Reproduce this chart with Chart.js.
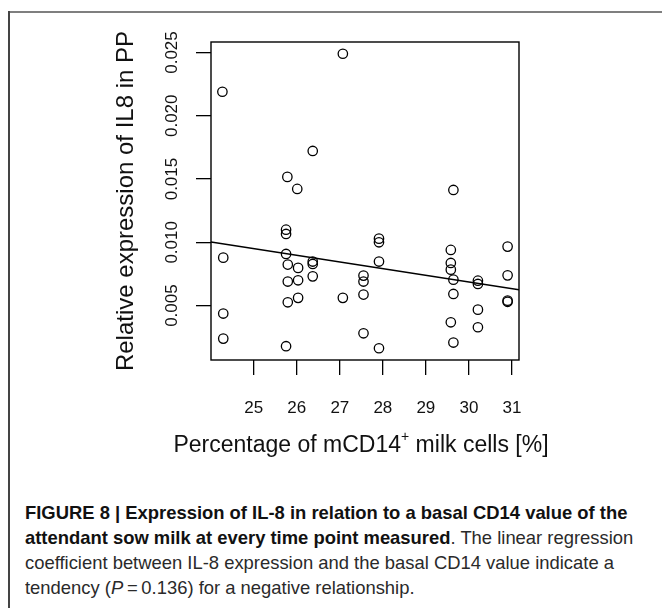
<!DOCTYPE html>
<html>
<head>
<meta charset="utf-8">
<script src="https://cdn.jsdelivr.net/npm/chart.js@4.4.1/dist/chart.umd.min.js"></script>
<style>
  html, body { margin: 0; padding: 0; background: #fff; }
  body { width: 662px; height: 608px; position: relative; overflow: hidden; }
  #wrap { position: absolute; left: 0; top: 0; width: 662px; height: 480px; }
  #frameTop { position: absolute; left: 8px; top: 11px; width: 654px; height: 2px; background: #7f7f7f; }
  #frameLeft { position: absolute; left: 8px; top: 11px; width: 1.5px; height: 597px; background: #444; }
  .cap { position: absolute; left: 25px; white-space: nowrap; font-family: "Liberation Sans", Arial, sans-serif; font-size: 18.5px; color: #2a2a2a; transform-origin: 0 0; }
  .cap b { font-weight: bold; color: #111; }
</style>
</head>
<body>
<div id="frameTop"></div>
<div id="frameLeft"></div>
<div id="wrap"><canvas id="c" width="662" height="480"></canvas></div>
<div class="cap" style="top:502px"><b>FIGURE 8 | Expression of IL-8 in relation to a basal CD14 value of the</b></div>
<div class="cap" style="top:527px"><b>attendant sow milk at every time point measured</b>. The linear regression</div>
<div class="cap" id="refLine" style="top:552px">coefficient between IL-8 expression and the basal CD14 value indicate a</div>
<div class="cap" style="top:577px">tendency (<i>P</i>&#8201;=&#8201;0.136) for a negative relationship.</div>
<script>
// ---- data ----
const cd14 = [24.27, 24.29, 24.29, 24.29,
  25.75, 25.75, 25.75, 25.78, 25.79, 25.79, 25.79, 25.75,
  26.01, 26.03, 26.03, 26.03,
  26.37, 26.37, 26.37, 26.37,
  27.07, 27.07,
  27.55, 27.55, 27.55, 27.55,
  27.91, 27.91, 27.91, 27.91,
  29.58, 29.58, 29.58, 29.64, 29.64, 29.64, 29.58, 29.64,
  30.21, 30.21, 30.21, 30.21,
  30.90, 30.90, 30.90, 30.90];
const il8 = [0.0219, 0.00879, 0.00437, 0.00239,
  0.0110, 0.01066, 0.00908, 0.01517, 0.00824, 0.00690, 0.00526, 0.00179,
  0.01422, 0.00798, 0.00700, 0.00561,
  0.01722, 0.00848, 0.00829, 0.00731,
  0.0249, 0.00561,
  0.00737, 0.00690, 0.00587, 0.00281,
  0.01029, 0.0100, 0.00848, 0.00163,
  0.0094, 0.00837, 0.00784, 0.01414, 0.00705, 0.00592, 0.00368, 0.00208,
  0.00697, 0.00671, 0.00468, 0.00329,
  0.00966, 0.00739, 0.00539, 0.00530];
const fitX = [24.005, 31.165];
const fitY = [0.01003, 0.00626];
const xTicks = [25, 26, 27, 28, 29, 30, 31];
const xTickLabels = ['25', '26', '27', '28', '29', '30', '31'];
const yTicks = [0.005, 0.010, 0.015, 0.020, 0.025];
const yTickLabels = ['0.005', '0.010', '0.015', '0.020', '0.025'];
const xRange = [24.005, 31.165];
const yRange = [0.0007, 0.02583];
const xTitle = 'Percentage of mCD14';
const xTitleSup = '+';
const xTitleEnd = ' milk cells [%]';
const yTitle = 'Relative expression of IL8 in PP';

// condense the caption lines (narrow typeface substitute)
(function () {
  const ref = document.getElementById('refLine');
  const s = 589 / ref.getBoundingClientRect().width;
  document.querySelectorAll('.cap').forEach(el => { el.style.transform = 'scaleX(' + s + ')'; });
})();

const FONT = '"Liberation Sans", Arial, Helvetica, sans-serif';

const rPlot = {
  id: 'rPlot',
  afterDraw(chart) {
    const ctx = chart.ctx;
    const a = chart.chartArea;
    const xs = chart.scales.x, ys = chart.scales.y;
    ctx.save();
    ctx.strokeStyle = '#000';
    ctx.lineWidth = 1.4;
    ctx.strokeRect(a.left, a.top, a.right - a.left, a.bottom - a.top);
    ctx.fillStyle = '#111';
    // x tick labels
    ctx.font = '17px ' + FONT;
    ctx.textAlign = 'center';
    ctx.textBaseline = 'alphabetic';
    xTicks.forEach((v, i) => ctx.fillText(xTickLabels[i], xs.getPixelForValue(v), 413));
    // y tick labels (rotated)
    yTicks.forEach((v, i) => {
      ctx.save();
      ctx.translate(177, ys.getPixelForValue(v));
      ctx.rotate(-Math.PI / 2);
      ctx.fillText(yTickLabels[i], 0, 0);
      ctx.restore();
    });
    // x title with superscript
    ctx.font = '23px ' + FONT;
    const w1 = ctx.measureText(xTitle).width;
    const w3 = ctx.measureText(xTitleEnd).width;
    ctx.font = '14px ' + FONT;
    const w2 = ctx.measureText(xTitleSup).width;
    const cx = (a.left + a.right) / 2 - 4;
    let sx = cx - (w1 + w2 + w3) / 2;
    ctx.textAlign = 'left';
    ctx.font = '23px ' + FONT;
    ctx.fillText(xTitle, sx, 452);
    ctx.font = '14px ' + FONT;
    ctx.fillText(xTitleSup, sx + w1, 441);
    ctx.font = '23px ' + FONT;
    ctx.fillText(xTitleEnd, sx + w1 + w2, 452);
    // y title
    ctx.save();
    ctx.translate(133, (a.top + a.bottom) / 2);
    ctx.rotate(-Math.PI / 2);
    ctx.textAlign = 'center';
    ctx.font = '24px ' + FONT;
    ctx.fillText(yTitle, 0, 0);
    ctx.restore();
    ctx.restore();
  }
};

new Chart(document.getElementById('c'), {
  type: 'scatter',
  data: {
    datasets: [
      {
        data: cd14.map((x, i) => ({ x: x, y: il8[i] })),
        pointStyle: 'circle',
        pointRadius: 4.7,
        pointBorderWidth: 1.3,
        pointBorderColor: '#000',
        pointBackgroundColor: 'rgba(0,0,0,0)',
        showLine: false
      },
      {
        type: 'line',
        data: fitX.map((x, i) => ({ x: x, y: fitY[i] })),
        borderColor: '#000',
        borderWidth: 1.5,
        pointRadius: 0,
        fill: false
      }
    ]
  },
  options: {
    responsive: false,
    animation: false,
    devicePixelRatio: 1,
    layout: { padding: { left: 0, top: 42, right: 143, bottom: 0 } },
    plugins: { legend: { display: false }, tooltip: { enabled: false }, title: { display: false } },
    scales: {
      x: {
        type: 'linear',
        min: xRange[0], max: xRange[1],
        afterBuildTicks: s => { s.ticks = xTicks.map(v => ({ value: v })); },
        afterFit: s => { s.height = 120; },
        border: { display: false },
        grid: { display: true, drawOnChartArea: false, drawTicks: true, tickLength: 15, color: '#000', lineWidth: 1.3 },
        ticks: { display: false }
      },
      y: {
        type: 'linear',
        min: yRange[0], max: yRange[1],
        afterBuildTicks: s => { s.ticks = yTicks.map(v => ({ value: v })); },
        afterFit: s => { s.width = 211; },
        border: { display: false },
        grid: { display: true, drawOnChartArea: false, drawTicks: true, tickLength: 15, color: '#000', lineWidth: 1.3 },
        ticks: { display: false }
      }
    }
  },
  plugins: [rPlot]
});
</script>
</body>
</html>
